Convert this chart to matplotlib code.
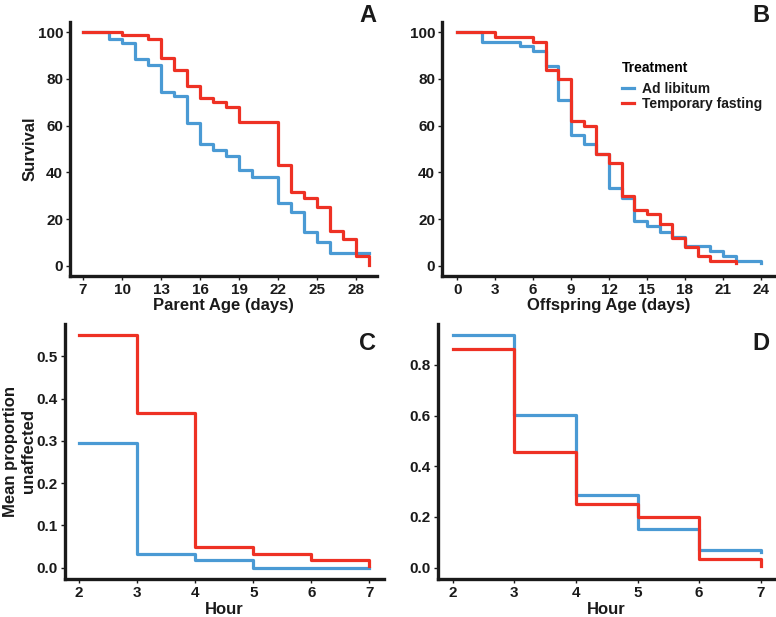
import numpy as np
import matplotlib
matplotlib.use('Agg')
import matplotlib.pyplot as plt

plt.rcParams['font.family'] = ['Liberation Sans', 'DejaVu Sans']
plt.rcParams['font.weight'] = 'bold'

BLUE = '#4a9ad4'
RED = '#ee3124'
INK = '#1a1a1a'

# A - parent survival (days)
a_adlib_x = [7, 9, 10, 11, 12, 13, 14, 15, 16, 17, 18, 19, 20, 22, 23, 24, 25, 26, 29]
a_adlib_y = [100, 97, 95.5, 88.5, 86, 74.5, 72.5, 61, 52, 49.5, 47, 41, 38, 27, 23, 14.5, 10, 5.5, 5.5]
a_fast_x = [7, 10, 12, 13, 14, 15, 16, 17, 18, 19, 22, 23, 24, 25, 26, 27, 28, 29]
a_fast_y = [100, 99, 97, 89, 84, 77, 72, 70, 68, 61.5, 43, 31.5, 29, 25, 15, 11.5, 4, 0.5]

# B - offspring survival (days)
b_adlib_x = [0, 2, 5, 6, 7, 8, 9, 10, 11, 12, 13, 14, 15, 16, 17, 18, 20, 21, 22, 24]
b_adlib_y = [100, 96, 94, 92, 85.5, 71, 56, 52, 48, 33.5, 29, 19, 17, 14.5, 12.5, 8.5, 6.5, 4, 2, 1]
b_fast_x = [0, 3, 6, 7, 8, 9, 10, 11, 12, 13, 14, 15, 16, 17, 18, 19, 20, 22]
b_fast_y = [100, 98, 96, 84, 80, 62, 60, 48, 44, 30, 24, 22, 18, 12, 8, 4, 2, 1]

# C, D - mean proportion unaffected per hour
hours = [2, 3, 4, 5, 6, 7]
c_adlib = [0.296, 0.033, 0.017, 0.0, 0.0, 0.0]
c_fast = [0.55, 0.366, 0.05, 0.033, 0.017, 0.005]
d_adlib = [0.917, 0.604, 0.288, 0.153, 0.068, 0.06]
d_fast = [0.862, 0.457, 0.25, 0.2, 0.034, 0.005]

W, H = 776, 617
fig = plt.figure(figsize=(W / 100, H / 100), dpi=100)


def box(x0, y0, x1, y1):
    return [x0 / W, 1 - y1 / H, (x1 - x0) / W, (y1 - y0) / H]


def style(ax, xlim, ylim, xticks, yticks, yfmt):
    ax.set_xlim(*xlim)
    ax.set_ylim(*ylim)
    ax.set_xticks(xticks)
    ax.set_yticks(yticks)
    ax.set_yticklabels([yfmt.format(v) for v in yticks])
    for s in ['top', 'right']:
        ax.spines[s].set_visible(False)
    for s in ['left', 'bottom']:
        ax.spines[s].set_linewidth(2.4)
        ax.spines[s].set_color(INK)
    ax.tick_params(length=3, width=1, colors=INK, labelsize=11, pad=2)
    for lab in ax.get_xticklabels() + ax.get_yticklabels():
        lab.set_fontweight('bold')


lw = 2.3

axA = fig.add_axes(box(70, 22, 377, 276))
axA.plot(a_adlib_x, a_adlib_y, drawstyle='steps-post', color=BLUE, lw=lw)
axA.plot(a_fast_x, a_fast_y, drawstyle='steps-post', color=RED, lw=lw)
style(axA, (6.0, 29.6), (-4.4, 104.4), range(7, 29, 3), range(0, 101, 20), '{:d}')
axA.set_xlabel('Parent Age (days)', fontsize=12, fontweight='bold', color=INK, labelpad=1)
axA.set_ylabel('Survival', fontsize=12, fontweight='bold', color=INK, labelpad=0)

axB = fig.add_axes(box(442, 22, 776, 276))
lb1, = axB.plot(b_adlib_x, b_adlib_y, drawstyle='steps-post', color=BLUE, lw=lw)
lb2, = axB.plot(b_fast_x, b_fast_y, drawstyle='steps-post', color=RED, lw=lw)
style(axB, (-1.2, 25.2), (-4.4, 104.4), range(0, 25, 3), range(0, 101, 20), '{:d}')
axB.set_xlabel('Offspring Age (days)', fontsize=12, fontweight='bold', color=INK, labelpad=1)
leg = axB.legend([lb1, lb2], ['Ad libitum', 'Temporary fasting'], title='Treatment',
                 frameon=False, handlelength=0.9, handletextpad=0.6, labelspacing=0.1,
                 loc='upper left', bbox_to_anchor=(609 / W, 1 - 49 / H),
                 bbox_transform=fig.transFigure, alignment='left',
                 prop={'weight': 'bold', 'size': 10},
                 title_fontproperties={'weight': 'bold', 'size': 10})
leg._legend_box.sep = 4.6
for t in leg.get_texts():
    t.set_color(INK)

axC = fig.add_axes(box(64.5, 323.5, 384, 579.3))
axC.plot(hours, c_adlib, drawstyle='steps-post', color=BLUE, lw=lw)
axC.plot(hours, c_fast, drawstyle='steps-post', color=RED, lw=lw)
style(axC, (1.75, 7.25), (-0.0275, 0.5775), hours, [0, 0.1, 0.2, 0.3, 0.4, 0.5], '{:.1f}')
axC.set_xlabel('Hour', fontsize=12, fontweight='bold', color=INK, labelpad=1)
axC.set_ylabel('Mean proportion\nunaffected', fontsize=12, fontweight='bold', color=INK,
               labelpad=0, linespacing=1.25)

axD = fig.add_axes(box(437.5, 323.5, 776, 579.3))
axD.plot(hours, d_adlib, drawstyle='steps-post', color=BLUE, lw=lw)
axD.plot(hours, d_fast, drawstyle='steps-post', color=RED, lw=lw)
style(axD, (1.75, 7.25), (-0.046, 0.963), hours, [0, 0.2, 0.4, 0.6, 0.8], '{:.1f}')
axD.set_xlabel('Hour', fontsize=12, fontweight='bold', color=INK, labelpad=1)

for letter, x, y in [('A', 376, 15), ('B', 770, 15), ('C', 376, 343), ('D', 770, 343)]:
    fig.text(x / W, 1 - y / H, letter, fontsize=17, fontweight='bold', color=INK,
             ha='right', va='center')

fig.savefig('out.png', dpi=100)
